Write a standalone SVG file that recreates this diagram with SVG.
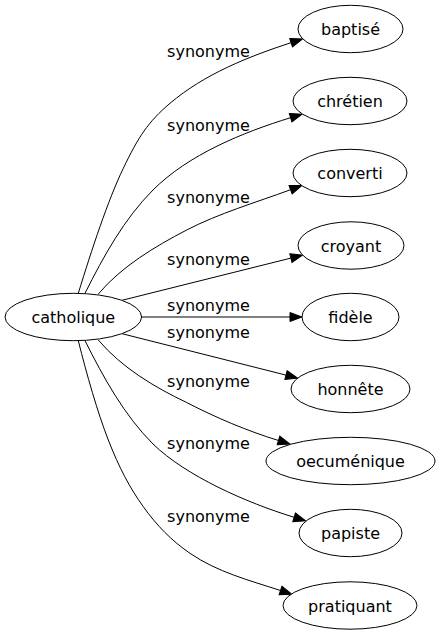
<svg xmlns="http://www.w3.org/2000/svg" width="441" height="635" viewBox="0 0 441 635">
<defs>
<style>
.node ellipse{fill:#fff;stroke:#000;stroke-width:1}
text{font-family:"DejaVu Sans","Noto Sans",sans-serif;font-size:16px;fill:#000;text-anchor:middle}
.edges path{fill:none;stroke:#000;stroke-width:1;marker-end:url(#arr)}
</style>
<marker id="arr" markerUnits="userSpaceOnUse" markerWidth="14" markerHeight="12" refX="0" refY="4.5" orient="auto" overflow="visible">
<path d="M0,0 L12,4.5 L0,9 Z" fill="#000" stroke="#000" stroke-width="1"/>
</marker>
</defs>
<rect width="441" height="635" fill="#fff"/>
<g id="edges" class="edges">
<path d="M78.3,293.3 C91.6,250 108,200 123.3,168.3 C138.6,136.6 147.8,122.2 170,103.3 C204.3,74.2 248.3,56.6 291.1,42.7"/>
<path d="M85,293.3 C103.5,256.5 124,219 153,190 C188.4,154.6 242.5,132.5 290.6,117.7"/>
<path d="M98.3,294 C121.4,266.6 154.7,246.6 186.7,230 C218.7,213.4 255.8,202.5 290.6,189.7"/>
<path d="M122,300.3 L290.9,258.1"/>
<path d="M141.7,317 L290,317"/>
<path d="M122,333.7 L286,375.1"/>
<path d="M98.3,340 C121.4,367.4 154.7,387.4 186.7,402.5 C216,417.7 247,430.8 278.5,440.5"/>
<path d="M85,340.7 C103.5,377.5 124,415 153,444 C186,476 246,502.5 294.1,517.3"/>
<path d="M78.3,340.7 C86.6,374 97.5,412.3 108.3,440 C119.1,467.7 129.7,487.8 143.3,506.7 C156.9,525.6 171.1,540.3 190,553.3 C217.2,572 249.1,580.3 280.5,590.5"/>
<text x="208.5" y="57">synonyme</text>
<text x="208.5" y="131">synonyme</text>
<text x="208.5" y="203">synonyme</text>
<text x="208.5" y="265">synonyme</text>
<text x="208.5" y="311">synonyme</text>
<text x="208.5" y="338">synonyme</text>
<text x="208.5" y="387">synonyme</text>
<text x="208.5" y="449">synonyme</text>
<text x="208.5" y="522">synonyme</text>
</g>
<g id="catholique" class="node"><ellipse cx="73.3" cy="317" rx="68.3" ry="23.7"/><text x="73.3" y="323">catholique</text></g>
<g id="baptise" class="node"><ellipse cx="350.5" cy="29" rx="52.5" ry="23.7"/><text x="350.5" y="35">baptisé</text></g>
<g id="chretien" class="node"><ellipse cx="350" cy="101" rx="57" ry="23.7"/><text x="350" y="107">chrétien</text></g>
<g id="converti" class="node"><ellipse cx="350" cy="173" rx="57" ry="23.7"/><text x="350" y="179">converti</text></g>
<g id="croyant" class="node"><ellipse cx="351" cy="245.5" rx="53" ry="23.7"/><text x="351" y="251.5">croyant</text></g>
<g id="fidele" class="node"><ellipse cx="350.5" cy="317" rx="48.5" ry="23.7"/><text x="350.5" y="323">fidèle</text></g>
<g id="honnete" class="node"><ellipse cx="350.5" cy="389" rx="59.5" ry="23.7"/><text x="350.5" y="395">honnête</text></g>
<g id="oecumenique" class="node"><ellipse cx="350.5" cy="461" rx="84.5" ry="23.7"/><text x="350.5" y="467">oecuménique</text></g>
<g id="papiste" class="node"><ellipse cx="350.5" cy="533" rx="51.5" ry="23.7"/><text x="350.5" y="539">papiste</text></g>
<g id="pratiquant" class="node"><ellipse cx="350" cy="605.5" rx="67" ry="23.7"/><text x="350" y="611.5">pratiquant</text></g>
</svg>
